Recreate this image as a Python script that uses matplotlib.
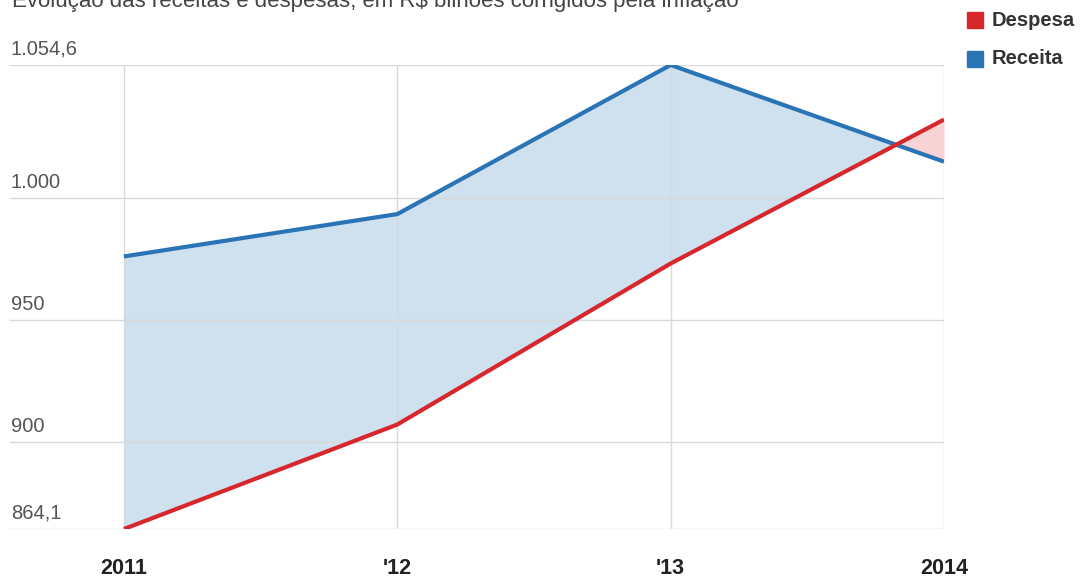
import matplotlib
matplotlib.use("Agg")
import matplotlib.pyplot as plt
import numpy as np

years = [2011, 2012, 2013, 2014]
year_labels = ["2011", "'12", "'13", "2014"]
receita = [976.0, 993.4, 1054.6, 1014.9]
despesa = [864.1, 907.0, 973.1, 1032.2]
y_ticks = [864.1, 900, 950, 1000, 1054.6]
y_tick_labels = ["864,1", "900", "950", "1.000", "1.054,6"]
title = "Evolução das receitas e despesas, em R$ bilhões corrigidos pela inflação"

RED = "#d8262d"
BLUE = "#2a74b6"
W, H = 1084, 577
plt.rcParams['font.family'] = ['Liberation Sans', 'DejaVu Sans']

fig = plt.figure(figsize=(W/100, H/100), dpi=100)
ax = fig.add_axes([10/W, (H-529)/H, (944-10)/W, (529-65)/H])

x = np.array(years, dtype=float)
r = np.array(receita)
d = np.array(despesa)
ax.fill_between(x, d, r, where=r >= d, interpolate=True, color="#cfe0ef", lw=0, zorder=1)
ax.fill_between(x, d, r, where=r < d, interpolate=True, color="#f8d3d6", lw=0, zorder=1)
ax.plot(x, r, color=BLUE, lw=3.0, zorder=3, solid_capstyle='butt')
ax.plot(x, d, color=RED, lw=3.0, zorder=3, solid_capstyle='butt')

ax.set_xlim(2010.583, 2014)
ax.set_ylim(y_ticks[0], y_ticks[-1])
ax.set_yticks(y_ticks)
ax.set_xticks(years)
ax.grid(True, color="#d9d9d9", lw=1.0, zorder=0)
for s in ax.spines.values():
    s.set_visible(False)
ax.tick_params(length=0, labelleft=False, labelbottom=False)

for v, lab in zip(y_ticks, y_tick_labels):
    ax.annotate(lab, xy=(0, v), xycoords=('axes fraction', 'data'),
                xytext=(1, 6), textcoords='offset pixels', ha='left', va='bottom',
                fontsize=14.5, color="#555555")

for v, lab in zip(years, year_labels):
    ax.annotate(lab, xy=(v, 0), xycoords=('data', 'axes fraction'),
                xytext=(0, -39), textcoords='offset pixels', ha='center', va='center',
                fontsize=15.5, fontweight='bold', color="#222222")

fig.text(12/W, 1 - 7/H, title, ha='left', va='baseline', fontsize=16, color="#444444")

# legend
for i, (lab, col) in enumerate([("Despesa", RED), ("Receita", BLUE)]):
    yc = 20 + i*39
    fig.patches.append(plt.Rectangle((967/W, 1 - (yc+8)/H), 16/W, 16/H,
                                     transform=fig.transFigure, color=col, figure=fig))
    fig.text(992/W, 1 - yc/H, lab, ha='left', va='center', fontsize=14.5,
             fontweight='bold', color="#333333")

fig.savefig("out.png", dpi=100, facecolor="white")
